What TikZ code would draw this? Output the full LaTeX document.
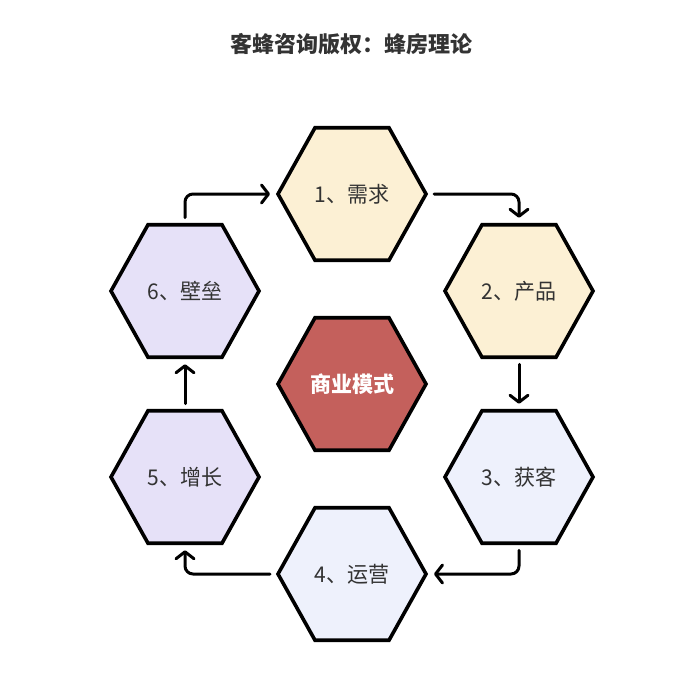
\documentclass[tikz,border=0pt]{standalone}
\usepackage{fontspec}
\newfontfamily\cjk{Noto Sans CJK SC}
\usetikzlibrary{shapes.geometric,arrows.meta}
\definecolor{cream}{HTML}{FCF0D4}
\definecolor{paleblue}{HTML}{EEF1FC}
\definecolor{lavender}{HTML}{E6E1F8}
\definecolor{brick}{HTML}{C4605C}
\definecolor{txt}{HTML}{333333}
\tikzset{
  hexbox/.style={regular polygon, regular polygon sides=6, minimum size=148pt,
    inner sep=0pt, outer sep=0pt, draw=black, line width=3.6pt, line join=miter,
    yscale=1.034, transform shape, font=\cjk\fontsize{21}{25}\selectfont, text=txt},
  flow/.style={draw=black, line width=3pt, line cap=round, line join=round,
    rounded corners=8pt, -{Straight Barb[length=7pt,width=18pt,line cap=round,line join=round]}},
  titletext/.style={font=\cjk\bfseries\fontsize{22}{26}\selectfont, text=txt}
}
\begin{document}
\begin{tikzpicture}[x=1pt,y=-1pt]
\useasboundingbox (0,0) rectangle (692,691);
\fill[white] (0,0) rectangle (692,691);
\node[titletext] (title) at (351,44) {客蜂咨询版权：蜂房理论};
\node[hexbox, fill=cream] (h1) at (352,194) {1、需求};
\node[hexbox, fill=cream] (h2) at (519,291) {2、产品};
\node[hexbox, fill=paleblue] (h3) at (519,477) {3、获客};
\node[hexbox, fill=paleblue] (h4) at (352,574) {4、运营};
\node[hexbox, fill=lavender] (h5) at (185,477) {5、增长};
\node[hexbox, fill=lavender] (h6) at (185,291) {6、壁垒};
\node[hexbox, fill=brick, text=white, font=\cjk\bfseries\fontsize{21}{25}\selectfont] (hc) at (352,384) {商业模式};
\draw[flow] ([xshift=8pt]h1.east) -| ([yshift=7pt]h2.north);
\draw[flow] ([yshift=-7pt]h2.south) -- ([yshift=7pt]h3.north);
\draw[flow] ([yshift=-7pt]h3.south) |- ([xshift=8pt]h4.east);
\draw[flow] ([xshift=-8pt]h4.west) -| ([yshift=-7pt]h5.south);
\draw[flow] ([yshift=7pt]h5.north) -- ([yshift=-7pt]h6.south);
\draw[flow] ([yshift=7pt]h6.north) |- ([xshift=-8pt]h1.west);
\end{tikzpicture}
\end{document}
